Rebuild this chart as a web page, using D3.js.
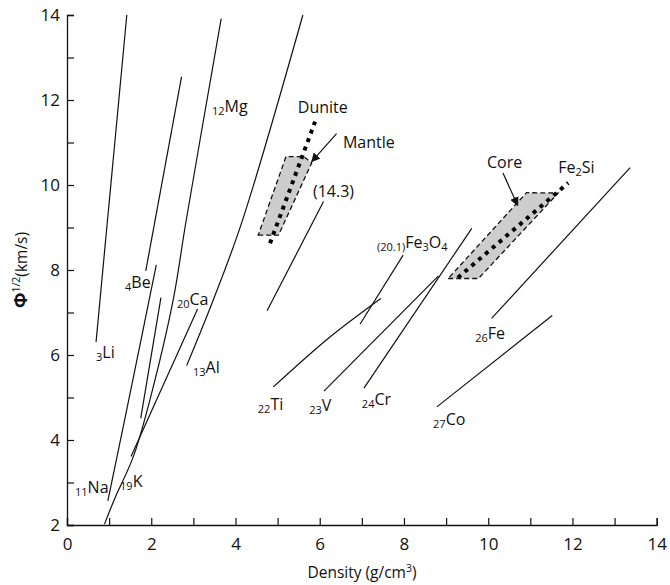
<!DOCTYPE html>
<html><head><meta charset="utf-8">
<script src="https://cdn.jsdelivr.net/npm/d3@7"></script>
<style>
body{margin:0;background:#fff;}
text{font-family:"Open Sans","Noto Sans",sans-serif;fill:#111;}
</style></head>
<body><svg id="chart" width="670" height="585"></svg>
<script>
// ---------- data ----------
const xTicks = [0,2,4,6,8,10,12,14];
const yTicks = [2,4,6,8,10,12,14];
const lineNames = ["Li","Be","Na","Ca2","MgK","Ca","Al","14.3","Ti","V","Cr","Fe3O4","Fe","Co"];
const linePoints = [
  [[0.69,6.31],[1.42,14.0]],
  [[1.87,7.98],[2.72,12.55]],
  [[0.97,2.57],[1.55,5.35],[2.12,8.12]],
  [[1.75,4.51],[2.23,7.35]],
  [[0.89,2.02],[1.12,2.59],[1.59,3.65],[2.04,5.22],[2.52,7.29],[2.83,9.17],[3.66,13.91]],
  [[1.52,3.61],[3.10,7.08]],
  [[2.84,5.75],[3.47,7.29],[4.15,9.12],[5.60,14.0]],
  [[4.75,7.04],[6.09,9.61]],
  [[4.90,5.25],[6.20,6.39],[7.45,7.33]],
  [[6.10,5.15],[8.82,7.86]],
  [[7.05,5.22],[9.61,8.98]],
  [[6.96,6.73],[7.98,8.35]],
  [[10.08,6.86],[13.37,10.41]],
  [[8.78,4.78],[11.52,6.93]]
];
const mantleRegion = [[4.54,8.82],[5.02,8.82],[5.81,10.52],[5.62,10.67],[5.20,10.67]];
const coreRegion = [[9.05,7.80],[9.77,7.80],[11.66,9.81],[10.91,9.82]];
const duniteLine = [[4.82,8.63],[5.89,11.49]];
const fe2siLine = [[9.28,7.82],[11.90,10.05]];
const arrows = [
  {from:[6.40,11.21], to:[5.81,10.55]},
  {from:[10.35,10.28], to:[10.70,9.52]}
];
// labels: [subscript prefix, main text parts, x, y]
const labels = [
  {pre:"3", parts:[["Li",0]], x:0.689, y:5.93},
  {pre:"4", parts:[["Be",0]], x:1.377, y:7.58},
  {pre:"12", parts:[["Mg",0]], x:3.44, y:11.72},
  {pre:"20", parts:[["Ca",0]], x:2.61, y:7.18},
  {pre:"13", parts:[["Al",0]], x:2.99, y:5.58},
  {pre:"11", parts:[["Na",0]], x:0.19, y:2.75},
  {pre:"19", parts:[["K",0]], x:1.26, y:2.89},
  {pre:"22", parts:[["Ti",0]], x:4.53, y:4.71},
  {pre:"23", parts:[["V",0]], x:5.75, y:4.68},
  {pre:"24", parts:[["Cr",0]], x:7.00, y:4.82},
  {pre:"27", parts:[["Co",0]], x:8.69, y:4.35},
  {pre:"26", parts:[["Fe",0]], x:9.69, y:6.38},
  {pre:"(20.1)", parts:[["Fe",0],["3",1],["O",0],["4",1]], x:7.36, y:8.52},
  {pre:"", parts:[["(14.3)",0]], x:5.84, y:9.72},
  {pre:"", parts:[["Dunite",0]], x:5.48, y:11.69},
  {pre:"", parts:[["Mantle",0]], x:6.55, y:10.87},
  {pre:"", parts:[["Core",0]], x:9.97, y:10.40},
  {pre:"", parts:[["Fe",0],["2",1],["Si",0]], x:11.66, y:10.28}
];

// ---------- chart ----------
const svg = d3.select("#chart");
const x = d3.scaleLinear().domain([0,14]).range([67,656.7]);
const y = d3.scaleLinear().domain([2,14]).range([525,15]);

// axes
const xAxis = d3.axisBottom(x).tickValues(d3.range(0,15,1)).tickSize(-7).tickPadding(10)
  .tickFormat(d => xTicks.includes(d) ? d : "");
const yAxis = d3.axisLeft(y).tickValues(d3.range(2,15,1)).tickSize(-7).tickPadding(7)
  .tickFormat(d => yTicks.includes(d) ? d : "");
const gx = svg.append("g").attr("transform","translate(0,525)").call(xAxis);
const gy = svg.append("g").attr("transform","translate(67,0)").call(yAxis);
[gx,gy].forEach(g=>{
  g.select(".domain").attr("stroke","#111").attr("stroke-width",1.3);
  g.selectAll(".tick line").attr("stroke","#111").attr("stroke-width",1.2);
  g.selectAll(".tick text").attr("font-size",17).attr("fill","#222")
    .style("font-family",'"Open Sans","Noto Sans",sans-serif');
});
gx.selectAll(".tick text").attr("dy","0.9em");
gy.selectAll(".tick text").attr("dy","0.35em");

// axis titles
svg.append("text").attr("x",362).attr("y",578).attr("text-anchor","middle").attr("font-size",15.5)
  .html('Density (g/cm<tspan dy="-6" font-size="10.5">3</tspan><tspan dy="6">)</tspan>');
const yt = svg.append("text").attr("transform","translate(27,270) rotate(-90)")
  .attr("text-anchor","middle").attr("font-size",15.5);
yt.append("tspan").attr("font-weight","bold").attr("font-size",18).text("Φ");
yt.append("tspan").attr("font-size",10.5).attr("dy",-7).text("1/2");
yt.append("tspan").attr("dy",7).text("(km/s)");

// regions
const area = d3.line().x(d=>x(d[0])).y(d=>y(d[1]));
[mantleRegion, coreRegion].forEach(r=>{
  svg.append("path").attr("d", area(r)+"Z").attr("fill","#cdcdcd")
    .attr("stroke","#111").attr("stroke-width",1.3).attr("stroke-dasharray","5,3");
});

// element lines
const curve = d3.line().x(d=>x(d[0])).y(d=>y(d[1])).curve(d3.curveCatmullRom);
linePoints.forEach(pts=>{
  svg.append("path").attr("d",curve(pts)).attr("fill","none")
    .attr("stroke","#111").attr("stroke-width",1.2);
});

// dotted lines
[duniteLine, fe2siLine].forEach(l=>{
  svg.append("path").attr("d",area(l)).attr("fill","none")
    .attr("stroke","#000").attr("stroke-width",4).attr("stroke-dasharray","4,5");
});

// arrows
svg.append("defs").append("marker").attr("id","ah").attr("viewBox","0 0 10 10")
  .attr("refX",9).attr("refY",5).attr("markerWidth",9).attr("markerHeight",9)
  .attr("markerUnits","userSpaceOnUse").attr("orient","auto")
  .append("path").attr("d","M0,0 L10,5 L0,10 Z").attr("fill","#111");
arrows.forEach(a=>{
  svg.append("line").attr("x1",x(a.from[0])).attr("y1",y(a.from[1]))
    .attr("x2",x(a.to[0])).attr("y2",y(a.to[1]))
    .attr("stroke","#111").attr("stroke-width",1.2).attr("marker-end","url(#ah)");
});

// labels
labels.forEach(l=>{
  const t = svg.append("text").attr("x",x(l.x)).attr("y",y(l.y)).attr("font-size",16);
  if(l.pre){ t.append("tspan").attr("font-size",11).attr("dy",3).text(l.pre); }
  let shifted = !!l.pre;
  l.parts.forEach(p=>{
    const sub = p[1]===1;
    let dy = 0;
    if(sub && !shifted){dy=3;shifted=true;}
    else if(!sub && shifted){dy=-3;shifted=false;}
    t.append("tspan").attr("font-size",sub?11:16).attr("dy",dy).text(p[0]);
  });
});
</script></body></html>
